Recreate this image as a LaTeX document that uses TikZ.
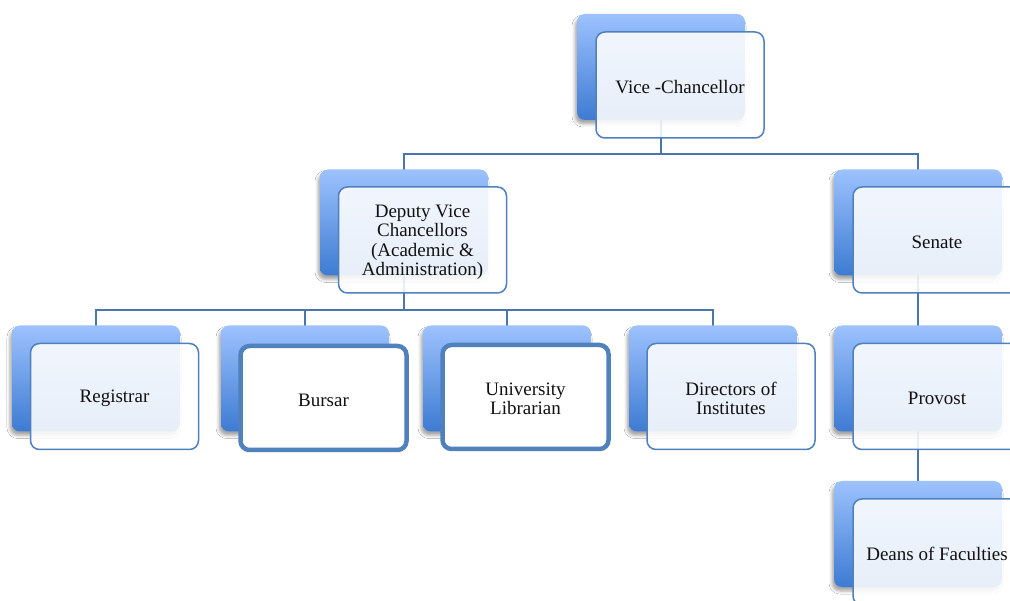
\documentclass[tikz,border=0pt]{standalone}
\usepackage{fontspec}
\setmainfont{Liberation Serif}
\usetikzlibrary{shadows.blur,backgrounds}
\definecolor{linkblue}{HTML}{4A76AE}
\definecolor{edgeblue}{HTML}{4F81BD}
\definecolor{tabtop}{HTML}{9DC2FE}
\definecolor{tabbot}{HTML}{3D7BD2}
\definecolor{inkc}{HTML}{111111}
\tikzset{
  conn/.style={draw=linkblue, line width=1.8pt},
  backbox/.style={rounded corners=8pt, minimum width=168pt, minimum height=106pt,
    inner sep=0pt, top color=tabtop, bottom color=tabbot, draw=none,
    blur shadow={shadow xshift=-2pt, shadow yshift=-4pt, shadow blur radius=3pt, shadow opacity=35}},
  cardtext/.style={text=inkc, align=center, inner sep=0pt, text opacity=1,
    font=\fontsize{19}{19.5}\selectfont},
  frontbox/.style={rounded corners=9pt, minimum width=168pt, minimum height=106pt,
    inner sep=2pt, fill=white, fill opacity=0.88, draw=edgeblue, line width=1.5pt,
    label={[cardtext, yshift=-2pt]center:#1}},
  boldbox/.style={frontbox=#1, fill opacity=1, line width=4.5pt,
    minimum width=166pt, minimum height=104pt},
}
\begin{document}
\begin{tikzpicture}[x=1pt, y=-1pt]
  \useasboundingbox (0,0) rectangle (1010,601);

  % back tabs
  \path (661,67)    node[backbox] (vcB)   {};
  \path (404,222.5) node[backbox] (dvcB)  {};
  \path (918,222.5) node[backbox] (senB)  {};
  \path (96,378.5)  node[backbox] (regB)  {};
  \path (305,378.5) node[backbox] (burB)  {};
  \path (507,378.5) node[backbox] (libB)  {};
  \path (713,378.5) node[backbox] (dirB)  {};
  \path (918,378.5) node[backbox] (provB) {};
  \path (918,534)   node[backbox] (deanB) {};

  % junction levels
  \coordinate (bus1) at (0,154);
  \coordinate (bus2) at (0,310);

  % connectors, drawn behind the tabs
  \begin{pgfonlayer}{background}
    \fill[white] (0,0) rectangle (1010,601);
    \draw[conn] (vcB.center) -- (vcB.center |- bus1) -| (dvcB.center);
    \draw[conn] (vcB.center |- bus1) -| (senB.center);
    \draw[conn] (dvcB.center) -- (dvcB.center |- bus2) -| (regB.center);
    \draw[conn] (dvcB.center |- bus2) -| (dirB.center);
    \draw[conn] (burB.center |- bus2) -- (burB.center);
    \draw[conn] (libB.center |- bus2) -- (libB.center);
    \draw[conn] (senB.center) -- (provB.center);
    \draw[conn] (provB.center) -- (deanB.center);
  \end{pgfonlayer}

  % front cards
  \node[frontbox={Vice -Chancellor}] (vc) at (680,85) {};
  \node[frontbox={Deputy Vice\\Chancellors\\(Academic \&\\Administration)}] (dvc) at (422.5,240) {};
  \node[frontbox={Senate}] (sen) at (937,240) {};
  \node[frontbox={Registrar}] (reg) at (114.5,396.5) {};
  \node[boldbox={Bursar}] (bur) at (323.5,398) {};
  \node[boldbox={University\\Librarian}] (lib) at (525.5,397) {};
  \node[frontbox={Directors of\\Institutes}] (dir) at (731,396.5) {};
  \node[frontbox={Provost}] (prov) at (937,396.5) {};
  \node[frontbox={Deans of Faculties}] (dean) at (937,552) {};
\end{tikzpicture}
\end{document}
